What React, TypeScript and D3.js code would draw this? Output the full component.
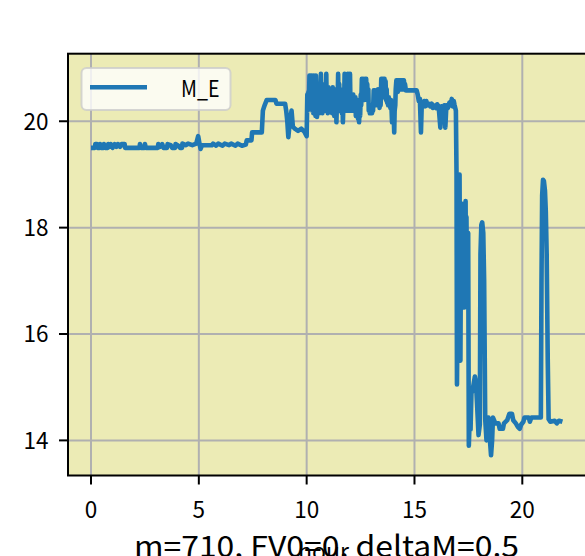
import React from 'react';
import * as d3 from 'd3';

// ---- data (hour, M_E) ----
const morning: [number, number][] = [
  [0, 19.5], [0.18, 19.5], [0.2, 19.57], [0.28, 19.57], [0.3, 19.5], [0.4, 19.5], [0.42, 19.57], [0.46, 19.5],
  [0.58, 19.5], [0.6, 19.57], [0.66, 19.5], [0.78, 19.5], [0.8, 19.57], [0.86, 19.52], [0.92, 19.57], [1.0, 19.5],
  [1.1, 19.57], [1.18, 19.52], [1.25, 19.57], [1.35, 19.52], [1.42, 19.57], [1.56, 19.57], [1.58, 19.5],
  [2.25, 19.5], [2.27, 19.57], [2.31, 19.5], [2.48, 19.5], [2.5, 19.57], [2.54, 19.5],
  [3.1, 19.5], [3.12, 19.57], [3.2, 19.52], [3.3, 19.57], [3.36, 19.5], [3.52, 19.5], [3.55, 19.57], [3.7, 19.55],
  [3.76, 19.5], [3.9, 19.5], [3.92, 19.57], [4.05, 19.54], [4.13, 19.5], [4.22, 19.5], [4.24, 19.58], [4.4, 19.55],
  [4.5, 19.58], [4.7, 19.55], [4.88, 19.58], [4.97, 19.72], [5.03, 19.58], [5.08, 19.48], [5.15, 19.55],
  [5.6, 19.55], [5.66, 19.58], [5.8, 19.54], [5.9, 19.58], [6.1, 19.54], [6.2, 19.58], [6.4, 19.55], [6.5, 19.58],
  [6.7, 19.54], [6.8, 19.58], [7.0, 19.54], [7.18, 19.56], [7.22, 19.64], [7.44, 19.64], [7.47, 19.79], [7.92, 19.79],
];

const riseHours: [number, number][] = [
  [7.97, 20.2], [8.05, 20.3], [8.15, 20.4], [8.55, 20.4], [8.6, 20.33], [9.0, 20.33], [9.05, 20.2], [9.1, 20.01],
  [9.15, 19.7], [9.22, 20.0], [9.3, 20.2], [9.36, 19.9], [9.45, 19.86], [9.6, 19.82], [9.75, 19.86], [9.9, 19.8],
];

const busyHours: [number, number][] = [
  [10.0, 19.72], [10.03, 20.5], [10.05, 20.2], [10.08, 20.55], [10.1, 20.3], [10.13, 20.86], [10.16, 20.25],
  [10.18, 20.86], [10.2, 20.4], [10.23, 20.86], [10.26, 20.2], [10.28, 20.8], [10.31, 20.15], [10.33, 20.86],
  [10.36, 20.3], [10.38, 20.75], [10.41, 20.1], [10.43, 20.86], [10.46, 20.5], [10.48, 20.08], [10.51, 20.5],
  [10.53, 20.2], [10.56, 20.6], [10.58, 20.15], [10.61, 20.5], [10.63, 20.2], [10.66, 20.89], [10.68, 20.3],
  [10.71, 20.7], [10.73, 20.15], [10.76, 20.6], [10.78, 20.3], [10.81, 20.64], [10.83, 20.2], [10.86, 20.55],
  [10.88, 20.25], [10.91, 20.89], [10.93, 20.3], [10.96, 20.6], [10.98, 20.15], [11.01, 20.64], [11.03, 20.35],
  [11.06, 20.55], [11.08, 20.2], [11.11, 20.6], [11.13, 20.3], [11.16, 20.5], [11.18, 20.15], [11.21, 20.64],
  [11.23, 20.25], [11.26, 20.55], [11.28, 20.1], [11.31, 20.5], [11.33, 20.3], [11.36, 20.6], [11.38, 19.98],
  [11.41, 20.45], [11.43, 20.2], [11.46, 20.89], [11.48, 20.3], [11.51, 20.7], [11.53, 20.2], [11.56, 20.6],
  [11.58, 20.25], [11.61, 20.5], [11.63, 20.15], [11.66, 20.45], [11.68, 19.98], [11.71, 20.4], [11.73, 20.2],
  [11.76, 20.89], [11.78, 20.3], [11.81, 20.8], [11.83, 20.2], [11.86, 20.6], [11.88, 20.3], [11.91, 20.89],
  [11.93, 20.4], [11.96, 20.55], [11.98, 20.2], [12.01, 20.89], [12.03, 20.35], [12.06, 20.5], [12.08, 20.25],
  [12.11, 20.45], [12.13, 20.2], [12.16, 20.5], [12.18, 20.26], [12.21, 20.4], [12.23, 20.2], [12.26, 20.45],
  [12.28, 20.1], [12.31, 20.35], [12.33, 20.2], [12.36, 20.4], [12.38, 20.05], [12.41, 20.3], [12.43, 19.98],
  [12.46, 20.3], [12.48, 20.1], [12.51, 20.5], [12.53, 20.3], [12.56, 20.8], [12.58, 20.45], [12.61, 20.8],
  [12.63, 20.5], [12.66, 20.76], [12.68, 20.4], [12.71, 20.8], [12.73, 20.55], [12.76, 20.8], [12.78, 20.5],
  [12.81, 20.7], [12.83, 20.4], [12.86, 20.6], [12.88, 20.2], [12.91, 20.3], [12.93, 20.15], [12.96, 20.25],
  [12.98, 20.2], [13.01, 20.3], [13.03, 20.15], [13.06, 20.25], [13.08, 20.2], [13.11, 20.58], [13.13, 20.4],
  [13.16, 20.58], [13.18, 20.35], [13.21, 20.55], [13.23, 20.3], [13.26, 20.58], [13.28, 20.4], [13.31, 20.6],
  [13.33, 20.3], [13.36, 20.55], [13.38, 20.25], [13.41, 20.5], [13.43, 20.3], [13.46, 20.8], [13.48, 20.5],
  [13.51, 20.8], [13.53, 20.45], [13.56, 20.8], [13.58, 20.6], [13.61, 20.8], [13.63, 20.5], [13.66, 20.75],
  [13.68, 20.4], [13.71, 20.6], [13.73, 20.35], [13.76, 20.45], [13.78, 20.3], [13.81, 20.45], [13.83, 20.3],
  [13.86, 20.4], [13.88, 20.25], [13.91, 20.4], [13.93, 20.3], [13.96, 19.98], [13.98, 20.3], [14.01, 20.35],
  [14.03, 20.2], [14.06, 19.79], [14.08, 20.2], [14.11, 20.3], [14.13, 20.6], [14.16, 20.77], [14.18, 20.6],
  [14.21, 20.77], [14.23, 20.55], [14.26, 20.77], [14.28, 20.6], [14.31, 20.77], [14.33, 20.6], [14.36, 20.77],
  [14.38, 20.65], [14.41, 20.77], [14.43, 20.6], [14.46, 20.77], [14.48, 20.7], [14.51, 20.77], [14.53, 20.6],
  [14.56, 20.7], [14.6, 20.58], [14.65, 20.58],
];

const lateHours: [number, number][] = [
  [15.1, 20.58], [15.15, 20.5], [15.2, 20.38], [15.25, 20.42], [15.3, 19.79], [15.34, 20.35], [15.4, 20.3],
  [15.45, 20.38], [15.5, 20.28], [15.55, 20.38], [15.6, 20.3], [15.66, 20.33], [15.73, 20.28], [15.8, 20.33],
  [15.85, 20.25], [15.9, 20.3], [16.0, 20.25], [16.05, 20.32], [16.12, 20.28], [16.2, 19.88], [16.25, 20.28],
  [16.32, 20.22], [16.38, 20.3], [16.43, 19.88], [16.48, 20.3], [16.55, 20.25], [16.62, 20.35], [16.68, 20.3],
  [16.73, 20.42], [16.78, 20.28], [16.82, 20.38], [16.86, 20.3], [16.92, 20.2],
];

const collapse: [number, number][] = [
  [16.95, 19.0], [16.97, 15.05], [16.99, 16.0], [17.01, 19.0], [17.03, 17.5], [17.05, 19.0], [17.07, 18.2],
  [17.09, 19.0], [17.11, 17.0], [17.13, 15.5], [17.15, 17.2], [17.17, 18.45], [17.19, 17.5], [17.21, 18.45],
  [17.23, 16.8], [17.25, 18.3], [17.27, 17.4], [17.29, 18.45], [17.31, 16.5], [17.33, 18.0], [17.35, 17.2],
  [17.37, 18.5], [17.39, 17.0], [17.41, 18.2], [17.43, 17.2], [17.45, 17.9], [17.47, 16.8], [17.49, 17.9],
  [17.52, 13.9], [17.56, 14.4], [17.6, 14.2], [17.64, 14.88], [17.72, 15.0], [17.8, 15.2], [17.85, 15.1],
  [17.9, 14.7], [17.97, 14.1], [18.03, 14.3], [18.06, 17.5], [18.1, 18.05], [18.14, 18.1], [18.19, 17.9],
  [18.23, 17.0], [18.28, 14.4], [18.34, 14.0], [18.43, 14.43], [18.5, 14.0], [18.55, 13.72], [18.6, 14.0],
  [18.64, 14.43],
];

const tail: [number, number][] = [
  [18.75, 14.32], [18.9, 14.32], [18.95, 14.22], [19.1, 14.22], [19.15, 14.32], [19.3, 14.38], [19.4, 14.5],
  [19.52, 14.5], [19.58, 14.38], [19.7, 14.32], [19.8, 14.25], [19.88, 14.22], [19.95, 14.3], [20.05, 14.35],
  [20.1, 14.43], [20.3, 14.43], [20.35, 14.35], [20.42, 14.43], [20.86, 14.43], [20.89, 17.0], [20.92, 18.6],
  [20.96, 18.9], [21.0, 18.88], [21.05, 18.7], [21.09, 18.3], [21.13, 17.5], [21.18, 15.5], [21.22, 14.4],
  [21.3, 14.35], [21.5, 14.37], [21.6, 14.32], [21.7, 14.37], [21.86, 14.35],
];

const xTicks = [0, 5, 10, 15, 20];
const yTicks = [14, 16, 18, 20];
const seriesName = 'M_E';
const xLabel = 'hour';
const bottomNote = 'm=710, FV0=0, deltaM=0.5';

const W = 585;
const H = 556;
const FONT = '"Noto Sans CJK SC", "Noto Sans", sans-serif';
const LINE_W = 4.6;

export default function App() {
  const data = [...morning, ...riseHours, ...busyHours, ...lateHours, ...collapse, ...tail];
  const left = 68, right = 587, top = 53.7, bottom = 475.5;
  const x = d3.scaleLinear().domain([-1.067, 23.0]).range([left, right]);
  const y = d3.scaleLinear().domain([13.34, 21.27]).range([bottom, top]);
  const line = d3.line<[number, number]>().x(d => x(d[0])).y(d => y(d[1]));

  return (
    <svg width={W} height={H} style={{ position: 'absolute', left: 0, top: 0, background: '#fff' }}
      fontFamily={FONT}>
      <defs>
        <clipPath id="plot"><rect x={left} y={top} width={right - left} height={bottom - top} /></clipPath>
      </defs>
      <rect x={left} y={top} width={right - left} height={bottom - top} fill="#ecebb5" />
      {xTicks.map(t => (
        <line key={'gx' + t} x1={x(t)} x2={x(t)} y1={top} y2={bottom} stroke="#b0b0b0" strokeWidth={2} />
      ))}
      {yTicks.map(t => (
        <line key={'gy' + t} x1={left} x2={right} y1={y(t)} y2={y(t)} stroke="#b0b0b0" strokeWidth={2} />
      ))}
      <path d={line(data) || ''} fill="none" stroke="#1f77b4" strokeWidth={LINE_W}
        strokeLinejoin="round" clipPath="url(#plot)" />
      <rect x={left} y={top} width={right - left} height={bottom - top} fill="none" stroke="#000" strokeWidth={2} />
      {xTicks.map(t => (
        <g key={'tx' + t}>
          <line x1={x(t)} x2={x(t)} y1={bottom} y2={bottom + 9} stroke="#000" strokeWidth={2} />
          <text x={x(t)} y={518} fontSize={23} textAnchor="middle" fill="#000"
            textLength={String(t).length * 12.5} lengthAdjust="spacingAndGlyphs">{t}</text>
        </g>
      ))}
      {yTicks.map(t => (
        <g key={'ty' + t}>
          <line x1={left - 9} x2={left} y1={y(t)} y2={y(t)} stroke="#000" strokeWidth={2} />
          <text x={48.5} y={y(t) + 8.3} fontSize={23} textAnchor="end" fill="#000"
            textLength={String(t).length * 12.5} lengthAdjust="spacingAndGlyphs">{t}</text>
        </g>
      ))}
      <rect x={81.5} y={68} width={149} height={42} rx={5} fill="#ffffff" fillOpacity={0.8}
        stroke="#cccccc" strokeOpacity={0.8} strokeWidth={2} />
      <line x1={90} x2={147} y1={87.3} y2={87.3} stroke="#1f77b4" strokeWidth={LINE_W} />
      <text x={181} y={96.5} fontSize={23} fill="#000" textLength={38.5} lengthAdjust="spacingAndGlyphs">{seriesName}</text>
      <text x={298} y={560} fontSize={23} fill="#000" textLength={51} lengthAdjust="spacingAndGlyphs">{xLabel}</text>
      <text x={134} y={557} fontSize={29} fill="#000" textLength={385} lengthAdjust="spacingAndGlyphs">{bottomNote}</text>
    </svg>
  );
}
